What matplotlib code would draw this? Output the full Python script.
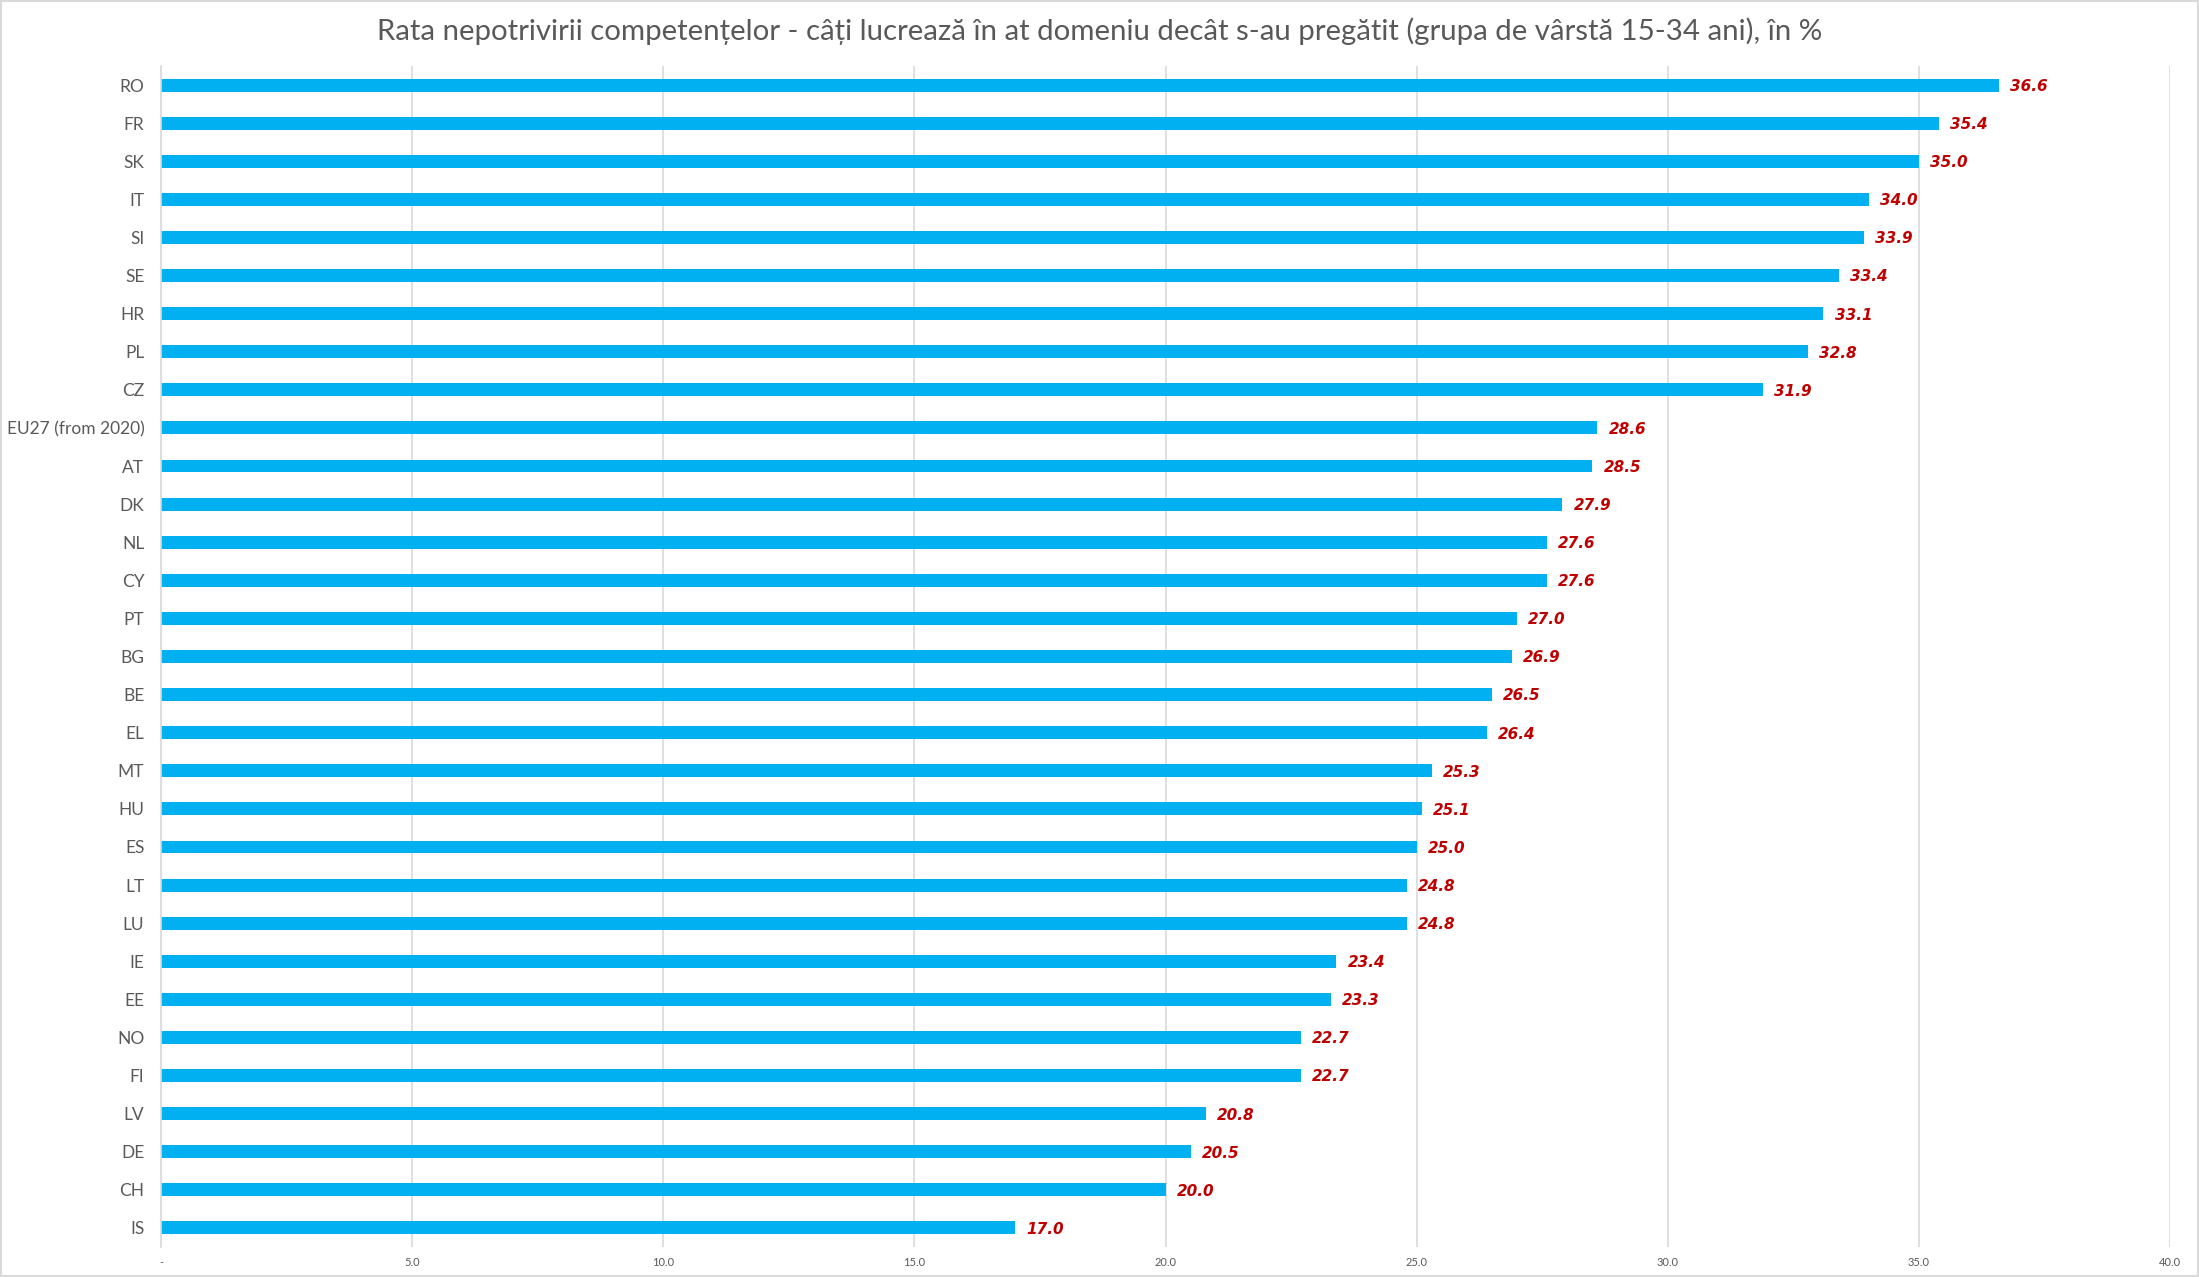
import matplotlib
matplotlib.use("Agg")
import matplotlib.pyplot as plt
from matplotlib.patches import Rectangle

countries = ["RO", "FR", "SK", "IT", "SI", "SE", "HR", "PL", "CZ", "EU27 (from 2020)",
             "AT", "DK", "NL", "CY", "PT", "BG", "BE", "EL", "MT", "HU",
             "ES", "LT", "LU", "IE", "EE", "NO", "FI", "LV", "DE", "CH", "IS"]
values = [36.6, 35.4, 35.0, 34.0, 33.9, 33.4, 33.1, 32.8, 31.9, 28.6,
          28.5, 27.9, 27.6, 27.6, 27.0, 26.9, 26.5, 26.4, 25.3, 25.1,
          25.0, 24.8, 24.8, 23.4, 23.3, 22.7, 22.7, 20.8, 20.5, 20.0, 17.0]
xticks = [0, 5, 10, 15, 20, 25, 30, 35, 40]
xticklabels = ["-", "5.0", "10.0", "15.0", "20.0", "25.0", "30.0", "35.0", "40.0"]
title = "Rata nepotrivirii competențelor - câți lucrează în at domeniu decât s-au pregătit (grupa de vârstă 15-34 ani), în %"

plt.rcParams['font.family'] = ['Lato', 'DejaVu Sans']

fig = plt.figure(figsize=(21.99, 12.77), dpi=100)
ax = fig.add_axes([161/2199, 1-1247/1277, (2170-161)/2199, (1247-66)/1277])

ypos = list(range(len(countries)))
ax.barh(ypos, values, height=0.34, color="#00B0F0", zorder=3)
ax.set_ylim(len(countries)-0.5, -0.5)
ax.set_xlim(0, 40)
ax.set_yticks(ypos)
ax.set_yticklabels(countries, fontsize=12.5, color="#595959")
ax.set_xticks(xticks)
ax.set_xticklabels(xticklabels, fontsize=8, color="#595959")
ax.tick_params(axis='both', length=0)
ax.tick_params(axis='y', pad=12)
ax.tick_params(axis='x', pad=7)
ax.grid(axis='x', color="#D9D9D9", linewidth=1.2, zorder=0)
for s in ["top", "right", "bottom"]:
    ax.spines[s].set_visible(False)
ax.spines["left"].set_color("#D9D9D9")
ax.spines["left"].set_linewidth(1.2)
ax.spines["left"].set_zorder(4)

for y, v in zip(ypos, values):
    ax.annotate(f"{v:.1f}", xy=(v, y), xytext=(8, -1), textcoords="offset points",
                ha="left", va="center", fontsize=11, fontweight="bold",
                fontstyle="italic", color="#C00000", family="DejaVu Sans")

fig.text(0.5, 1-31/1277, title, ha="center", va="center", fontsize=21.2, color="#595959")
fig.patches.append(Rectangle((0.0005, 0.0008), 0.999, 0.9984, transform=fig.transFigure,
                             fill=False, edgecolor="#D9D9D9", linewidth=1.5))

fig.savefig("out.png", dpi=100)
